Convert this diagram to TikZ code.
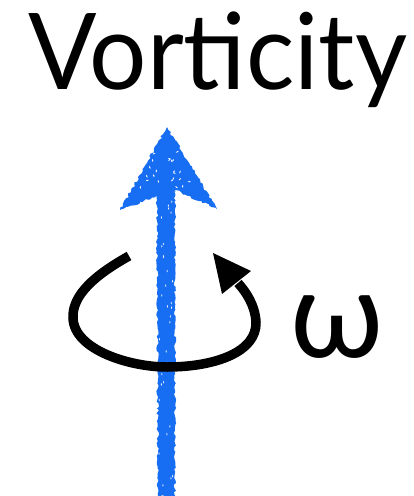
\documentclass[tikz,border=0pt]{standalone}
\usepackage{fontspec}
\setmainfont{Lato}
\usetikzlibrary{decorations.pathmorphing}
\definecolor{vblue}{HTML}{176EF2}
\tikzset{
  rough/.style={decorate,decoration={random steps,segment length=2.5pt,amplitude=1.2pt}},
  loopline/.style={draw=black,line width=9.5pt},
}
\begin{document}
\begin{tikzpicture}[x=1pt,y=-1pt]
\useasboundingbox (0,0) rectangle (414,496);
% title
\node[inner sep=0,anchor=base,xscale=0.955] (title) at (218,89) {\fontsize{106}{110}\selectfont Vorticity};
% blue arrow
\pgfmathsetseed{7}
\fill[vblue,rough] (158,496) -- (157,196) -- (120,210) -- (167,127) -- (217,209) -- (175,190) -- (175,496) -- cycle;
\pgfmathsetseed{11}
\foreach \i in {1,...,28}{
  \pgfmathsetmacro{\px}{140+54*rnd}
  \pgfmathsetmacro{\py}{150+45*rnd}
  \pgfmathsetmacro{\ang}{360*rnd}
  \fill[white,rotate around={\ang:(\px,\py)}] (\px,\py) ellipse (1.6 and 0.6);
}
\foreach \i in {1,...,30}{
  \pgfmathsetmacro{\px}{159+14*rnd}
  \pgfmathsetmacro{\py}{200+290*rnd}
  \fill[white] (\px,\py) ellipse (0.5 and 1.4);
}
% rotation loop
\coordinate (s) at (129,256);
\coordinate (e) at (238,283);
\draw[loopline] (s) .. controls (95,275) and (72,295) .. (73,318)
  .. controls (74,350) and (130,367) .. (167,367)
  .. controls (215,367) and (257,352) .. (256,322)
  .. controls (255,305) and (246,292) .. (e);
\fill[black] (213,253) -- (251,271) -- (222,294) -- cycle;
% omega
\node[inner sep=0,anchor=base] (omega) at (337,357) {\fontsize{122}{124}\selectfont ω};
\end{tikzpicture}
\end{document}
